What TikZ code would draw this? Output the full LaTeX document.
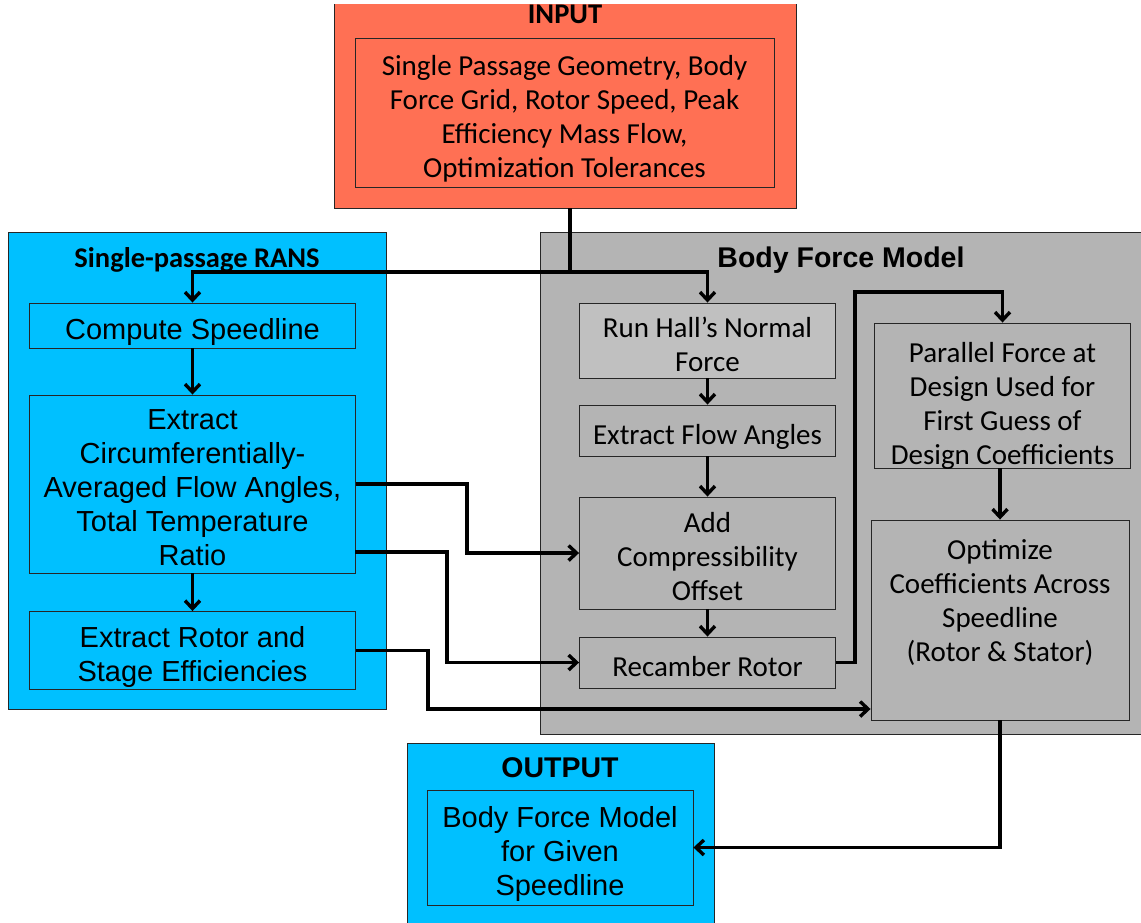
\documentclass[tikz,border=0pt]{standalone}
\usepackage{fontspec}
\setmainfont{Carlito}
\newfontfamily\arialf{Liberation Sans}
\usetikzlibrary{arrows.meta}
\definecolor{inorange}{RGB}{255,112,84}
\definecolor{ransblue}{RGB}{0,192,255}
\definecolor{bfgray}{RGB}{180,180,180}
\definecolor{hallgray}{RGB}{192,192,192}
\begin{document}
\begin{tikzpicture}[x=1pt,y=-1pt,
  outerbox/.style={draw=black!85,line width=0.9pt,inner sep=0pt,rectangle},
  innerbox/.style={draw=black!85,line width=0.9pt,inner sep=0pt,rectangle},
  ransbox/.style={innerbox,fill=ransblue},
  bfbox/.style={innerbox,fill=bfgray},
  bt/.style={inner sep=0pt,align=center,text depth=0pt,yshift=-3.5pt,font=\fontsize{29}{34}\selectfont},
  abt/.style={bt,font=\arialf\fontsize{29}{34}\selectfont},
  ttl/.style={inner sep=0pt,anchor=base,font=\bfseries\fontsize{28.5}{32}\selectfont},
  attl/.style={inner sep=0pt,anchor=base,font=\arialf\bfseries\fontsize{28.5}{32}\selectfont},
  conn/.style={line width=3.4pt,black},
  arr/.style={conn,-{Straight Barb[length=8pt,width=15pt]}}
]
\useasboundingbox (0,0) rectangle (1141,922);
% outer boxes
\node[inner sep=0pt,rectangle,fill=inorange,minimum width=461,minimum height=204] (inOuter) at (565.5,106) {};
\draw[black!85,line width=0.9pt] (inOuter.north west) -- (inOuter.south west) -- (inOuter.south east) -- (inOuter.north east);
\node[outerbox,fill=ransblue,minimum width=378,minimum height=477] (ransOuter) at (197,470.5) {};
\node[outerbox,fill=bfgray,minimum width=610,minimum height=502] (bfOuter) at (845,483) {};
\node[outerbox,fill=ransblue,minimum width=307,minimum height=190] (outOuter) at (560.5,838) {};
% titles
\node[ttl] (inTitle) at (565,23) {INPUT};
\node[ttl] (ransTitle) at (197,267) {Single-passage RANS};
\node[attl] (bfTitle) at (841,267) {Body Force Model};
\node[attl] (outTitle) at (560,777) {OUTPUT};
% inner boxes
\node[innerbox,fill=inorange,minimum width=419,minimum height=149] (inInner) at (564.5,112.5) {};
\node[ransbox,minimum width=326,minimum height=45] (compute) at (192.5,325.5) {};
\node[ransbox,minimum width=326,minimum height=178] (extract) at (192.5,484) {};
\node[ransbox,minimum width=326,minimum height=78] (effs) at (192.5,650.5) {};
\node[bfbox,fill=hallgray,minimum width=256,minimum height=75] (hall) at (707.5,340.5) {};
\node[bfbox,minimum width=256,minimum height=51] (flow) at (707.5,430.5) {};
\node[bfbox,minimum width=256,minimum height=112] (comp) at (707.5,553) {};
\node[bfbox,minimum width=256,minimum height=51] (recamber) at (707.5,662.5) {};
\node[bfbox,minimum width=256,minimum height=145] (parallel) at (1002.5,395.5) {};
\node[bfbox,minimum width=258,minimum height=200] (optimize) at (1000,620) {};
\node[innerbox,fill=ransblue,minimum width=266,minimum height=115] (outInner) at (560,847.5) {};
% texts
\node[bt] (inText) at (inInner.center) {Single Passage Geometry, Body\\Force Grid, Rotor Speed, Peak\\Efficiency Mass Flow,\\Optimization Tolerances};
\node[abt] (computeT) at (compute.center) {Compute Speedline};
\node[abt] (extractT) at (extract.center) {Extract\\Circumferentially-\\Averaged Flow Angles,\\Total Temperature\\Ratio};
\node[abt] (effsT) at (effs.center) {Extract Rotor and\\Stage Efficiencies};
\node[bt] (hallT) at (hall.center) {Run Hall’s Normal\\Force};
\node[bt] (flowT) at (flow.center) {Extract Flow Angles};
\node[bt] (compT) at (comp.center) {Add\\Compressibility\\Offset};
\node[bt] (recamberT) at (recamber.center) {Recamber Rotor};
\node[bt,yshift=-4pt] (parallelT) at (parallel.center) {Parallel Force at\\Design Used for\\First Guess of\\Design Coefficients};
\node[bt,yshift=23pt] (optimizeT) at (optimize.center) {Optimize\\Coefficients Across\\Speedline\\(Rotor \& Stator)};
\node[abt] (outText) at (outInner.center) {Body Force Model\\for Given\\Speedline};
% connectors
\coordinate (split) at (570,272);
\draw[conn] (inOuter.south -| split) -- (split);
\draw[arr] (split) -| (compute.north);
\draw[arr] (split) -| (hall.north);
\draw[arr] (compute.south) -- (extract.north);
\draw[arr] (extract.south) -- (effs.north);
\draw[arr] (hall.south) -- (flow.north);
\draw[arr] (flow.south) -- (comp.north);
\draw[arr] (comp.south) -- (recamber.north);
\coordinate (r1) at (855,292);
\draw[arr] (recamber.east) -| (r1) -| (parallel.north);
\draw[arr] (parallel.south -| optimize.north) -- (optimize.north);
\coordinate (k1) at (467,553);
\draw[arr] (extract.east) -| (k1) -- (comp.west);
\coordinate (k2a) at (355,552);
\coordinate (k2) at (447,662.5);
\draw[arr] (k2a) -| (k2) -- (recamber.west);
\coordinate (k3) at (428,709);
\draw[arr] (effs.east) -| (k3) -- (k3 -| optimize.west);
\draw[arr] (optimize.south) |- (outInner.east);
\end{tikzpicture}
\end{document}
